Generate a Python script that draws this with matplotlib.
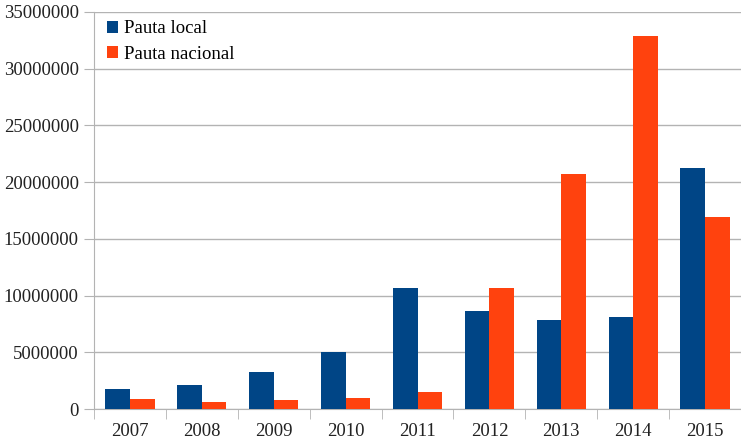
import numpy as np
import matplotlib
matplotlib.use('Agg')
import matplotlib.pyplot as plt

years = ['2007', '2008', '2009', '2010', '2011', '2012', '2013', '2014', '2015']
local = [1760000, 2120000, 3260000, 5000000, 10670000, 8670000, 7850000, 8110000, 21250000]
nacional = [880000, 650000, 790000, 970000, 1500000, 10670000, 20700000, 32900000, 16900000]

plt.rcParams['font.family'] = ['Liberation Serif', 'DejaVu Serif']
plt.rcParams['font.size'] = 13.5

fig = plt.figure(figsize=(7.41, 4.44), dpi=100)
ax = fig.add_axes([94 / 741, 35 / 444, 647 / 741, 397 / 444])

x = np.arange(len(years))
w = 0.343
ax.bar(x - w / 2, local, w, color='#004586', label='Pauta local', zorder=3)
ax.bar(x + w / 2, nacional, w, color='#ff420e', label='Pauta nacional', zorder=3)

ax.set_xlim(-0.5, len(years) - 0.5)
ax.set_ylim(0, 35000000)
ax.set_yticks(range(0, 35000001, 5000000))
ax.set_yticklabels([str(v) for v in range(0, 35000001, 5000000)])
ax.yaxis.grid(True, color='#b3b3b3', linewidth=1, zorder=0)

ax.set_xticks(x)
ax.set_xticklabels(years)
ax.set_xticks(np.arange(-0.5, len(years), 1), minor=True)
ax.tick_params(axis='x', which='major', length=0, pad=10, colors='#222222')
ax.tick_params(axis='x', which='minor', length=7, color='#b3b3b3', direction='out')
ax.tick_params(axis='y', length=7, pad=4, colors='#222222')
ax.tick_params(axis='y', color='#b3b3b3')

for s in ['top', 'right']:
    ax.spines[s].set_visible(False)
for s in ['left', 'bottom']:
    ax.spines[s].set_color('#b3b3b3')

ax.legend(loc='upper left', frameon=False, handlelength=0.6, handleheight=0.6,
          handletextpad=0.3, labelspacing=0.45, borderaxespad=0.3,
          bbox_to_anchor=(0.0, 1.012))

fig.savefig('out.png', dpi=100)
